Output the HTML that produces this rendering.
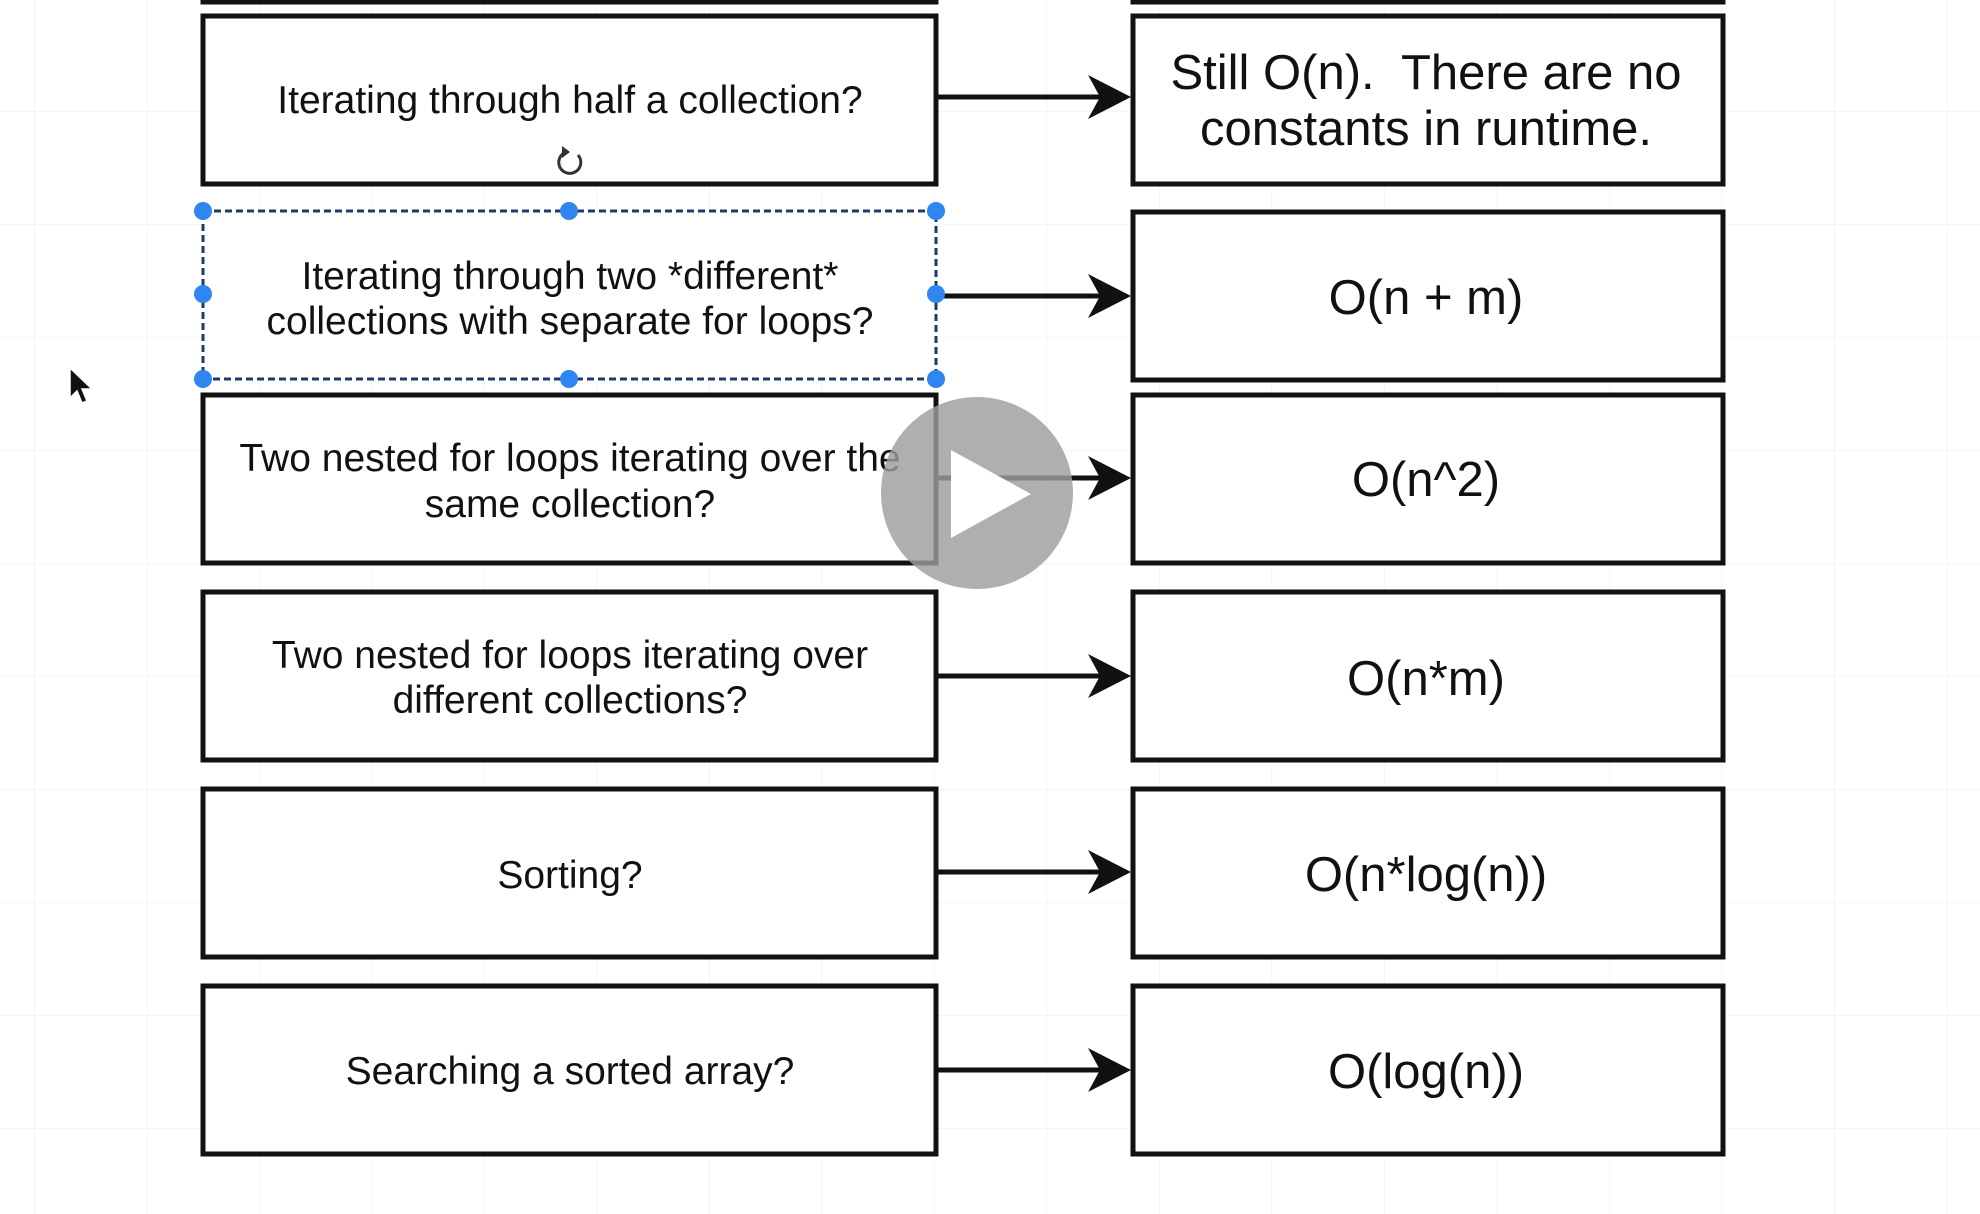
<!DOCTYPE html>
<html><head><meta charset="utf-8"><style>
html,body{margin:0;padding:0;background:#fff;}
svg{display:block;}
text{font-family:"Liberation Sans",Arial,sans-serif;fill:#111;white-space:pre;}
</style></head><body>
<svg width="1980" height="1214" viewBox="0 0 1980 1214" xmlns="http://www.w3.org/2000/svg">
<defs>
<pattern id="g" x="34" y="111" width="112.5" height="113" patternUnits="userSpaceOnUse">
<path d="M0 0H112.5M0 0V113" stroke="#f2f2f2" stroke-width="1.5" fill="none"/>
</pattern>
</defs>
<rect width="1980" height="1214" fill="#fff"/>
<rect width="1980" height="1214" fill="url(#g)"/>

<g fill="#fff" stroke="#111" stroke-width="5">
<rect x="203" y="-20" width="733" height="22"/>
<rect x="1133" y="-20" width="590" height="22"/>
<rect x="203" y="16" width="733" height="168"/>
<rect x="203" y="395" width="733" height="168"/>
<rect x="203" y="592" width="733" height="168"/>
<rect x="203" y="789" width="733" height="168"/>
<rect x="203" y="986" width="733" height="168"/>
<rect x="1133" y="16" width="590" height="168"/>
<rect x="1133" y="212" width="590" height="168"/>
<rect x="1133" y="395" width="590" height="168"/>
<rect x="1133" y="592" width="590" height="168"/>
<rect x="1133" y="789" width="590" height="168"/>
<rect x="1133" y="986" width="590" height="168"/>
</g>
<rect x="203" y="211" width="733" height="168" fill="#fff"/>

<g stroke="#111" stroke-width="5">
<line x1="936" y1="97" x2="1100" y2="97"/>
<line x1="936" y1="296" x2="1100" y2="296"/>
<line x1="936" y1="478" x2="1100" y2="478"/>
<line x1="936" y1="676" x2="1100" y2="676"/>
<line x1="936" y1="872" x2="1100" y2="872"/>
<line x1="936" y1="1070" x2="1100" y2="1070"/>
</g>
<g fill="#111">
<path d="M1131 97L1088 75L1100 97L1088 119Z"/>
<path d="M1131 296L1088 274L1100 296L1088 318Z"/>
<path d="M1131 478L1088 456L1100 478L1088 500Z"/>
<path d="M1131 676L1088 654L1100 676L1088 698Z"/>
<path d="M1131 872L1088 850L1100 872L1088 894Z"/>
<path d="M1131 1070L1088 1048L1100 1070L1088 1092Z"/>
</g>

<rect x="203" y="211" width="733" height="168" fill="none" stroke="#1f3b66" stroke-width="3" stroke-dasharray="7 4"/>
<g fill="#2f86f0">
<circle cx="203" cy="211" r="9"/><circle cx="569" cy="211" r="9"/><circle cx="936" cy="211" r="9"/>
<circle cx="203" cy="294" r="9"/><circle cx="936" cy="294" r="9"/>
<circle cx="203" cy="379" r="9"/><circle cx="569" cy="379" r="9"/><circle cx="936" cy="379" r="9"/>
</g>
<path d="M566 152 A11 11 0 1 0 578 155" fill="none" stroke="#333" stroke-width="3"/>
<path d="M562 146L570 152L562 158Z" fill="#333"/>

<g font-size="39" text-anchor="middle">
<text x="570" y="113">Iterating through half a collection?</text>
<text x="570" y="289">Iterating through two *different*</text>
<text x="570" y="334">collections with separate for loops?</text>
<text x="570" y="471">Two nested for loops iterating over the</text>
<text x="570" y="517">same collection?</text>
<text x="570" y="668">Two nested for loops iterating over</text>
<text x="570" y="713">different collections?</text>
<text x="570" y="888">Sorting?</text>
<text x="570" y="1084">Searching a sorted array?</text>
</g>
<g font-size="49" text-anchor="middle">
<text x="1426" y="89">Still O(n).  There are no</text>
<text x="1426" y="145">constants in runtime.</text>
<text x="1426" y="314">O(n + m)</text>
<text x="1426" y="496">O(n^2)</text>
<text x="1426" y="695">O(n*m)</text>
<text x="1426" y="891">O(n*log(n))</text>
<text x="1426" y="1088">O(log(n))</text>
</g>

<circle cx="977" cy="493" r="96" fill="#9e9e9e" fill-opacity="0.82"/>
<path d="M951 450L1031 494L951 538Z" fill="#fff"/>

<path d="M70 368L70 398L77 391L82 403L87 401L82 389L92 389Z" fill="#111" stroke="#fff" stroke-width="1.5"/>
</svg>
</body></html>
